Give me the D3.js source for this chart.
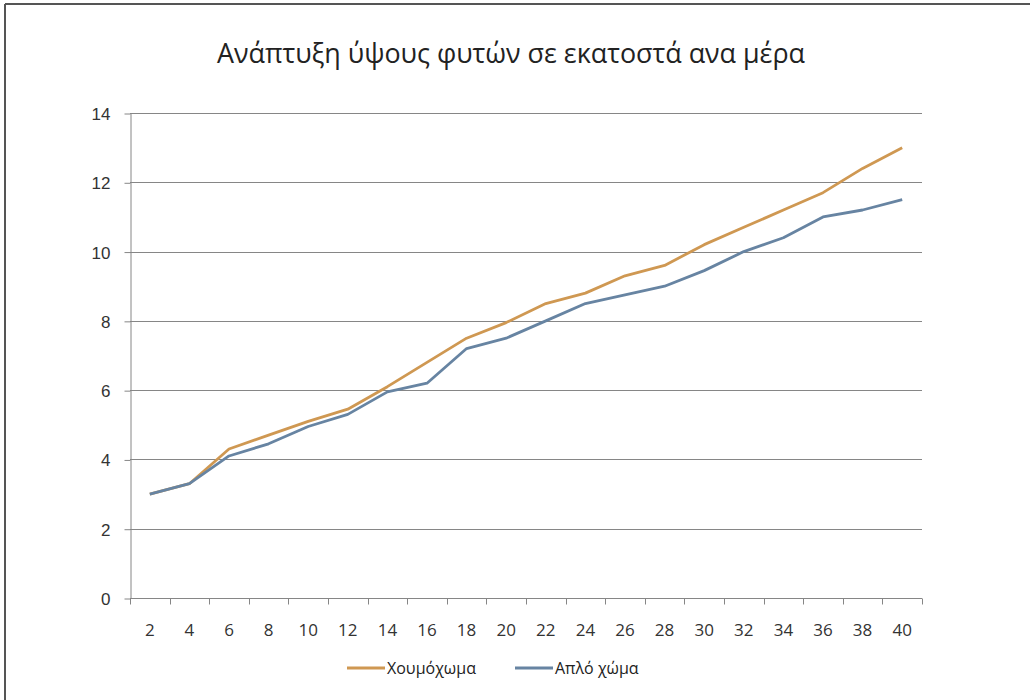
<!DOCTYPE html>
<html>
<head>
<meta charset="utf-8" />
<title>Ανάπτυξη ύψους φυτών</title>
<script src="https://d3js.org/d3.v7.min.js"></script>
<style>
    body { margin: 0; background: #fff; }
    svg { display: block; font-family: 'Open Sans', sans-serif; }
    .grid line { stroke: #868686; stroke-width: 1px; }
    .axis path, .axis line { stroke: #868686; }
    .axis text { fill: #333; font-size: 17px; }
</style>
</head>
<body>
<div id="chart"></div>
<script>
    // days (x categories)
    var days = [2, 4, 6, 8, 10, 12, 14, 16, 18, 20, 22, 24, 26, 28, 30, 32, 34, 36, 38, 40];
    // Χουμόχωμα
    var humus = [3.0, 3.3, 4.3, 4.7, 5.1, 5.45, 6.1, 6.8, 7.5, 7.95, 8.5, 8.8, 9.3, 9.6, 10.2, 10.7, 11.2, 11.7, 12.4, 13.0];
    // Απλό χώμα
    var plain = [3.0, 3.3, 4.1, 4.45, 4.95, 5.3, 5.95, 6.2, 7.2, 7.5, 8.0, 8.5, 8.75, 9.0, 9.45, 10.0, 10.4, 11.0, 11.2, 11.5];
    var yTicks = [0, 2, 4, 6, 8, 10, 12, 14];
    var seriesNames = ["Χουμόχωμα", "Απλό χώμα"];
    var colors = ["#cf9852", "#6784a2"];

    var width = 1030, height = 700;
    // plot box (note: "top" is reserved on window, so use own names)
    var plotL = 130, plotR = 922, plotT = 113, plotB = 598;

    var svg = d3.select("#chart").append("svg")
        .attr("width", width).attr("height", height);

    // frame (only top and left edges are visible in the picture)
    svg.append("line").attr("x1", 5).attr("y1", 4).attr("x2", width).attr("y2", 4)
        .attr("stroke", "#555").attr("stroke-width", 2);
    svg.append("line").attr("x1", 5).attr("y1", 4).attr("x2", 5).attr("y2", height)
        .attr("stroke", "#555").attr("stroke-width", 2);

    svg.append("text")
        .attr("x", 511).attr("y", 63)
        .attr("text-anchor", "middle")
        .attr("textLength", 588).attr("lengthAdjust", "spacingAndGlyphs")
        .style("font-size", "27px").style("fill", "#222")
        .text("Ανάπτυξη ύψους φυτών σε εκατοστά ανα μέρα");

    var x = d3.scaleBand().domain(days).range([plotL, plotR]);
    var y = d3.scaleLinear().domain([0, 14]).range([plotB, plotT]);

    // gridlines
    svg.append("g").attr("class", "grid")
        .selectAll("line").data(yTicks.filter(function (d) { return d > 0; }))
        .enter().append("line")
        .attr("x1", plotL).attr("x2", plotR)
        .attr("y1", function (d) { return Math.round(y(d)) + 0.5; })
        .attr("y2", function (d) { return Math.round(y(d)) + 0.5; });

    // y axis
    var yAxis = svg.append("g").attr("class", "axis")
        .attr("transform", "translate(" + (plotL + 0.5) + ",0.5)")
        .call(d3.axisLeft(y).tickValues(yTicks).tickSize(6).tickPadding(14).tickSizeOuter(0));
    yAxis.selectAll("text").attr("dy", "0.35em");

    // x axis: ticks sit between categories, as in the spreadsheet
    var xAxis = svg.append("g").attr("class", "axis")
        .attr("transform", "translate(0," + (Math.round(plotB) + 0.5) + ")");
    xAxis.append("line")
        .attr("x1", plotL).attr("x2", plotR).attr("y1", 0).attr("y2", 0);
    var bounds = days.map(function (d) { return x(d); }).concat([plotR]);
    xAxis.selectAll(".tk").data(bounds).enter().append("line")
        .attr("class", "tk")
        .attr("x1", function (d) { return Math.round(d) + 0.5; })
        .attr("x2", function (d) { return Math.round(d) + 0.5; })
        .attr("y1", 0).attr("y2", 6);
    xAxis.selectAll("text").data(days).enter().append("text")
        .attr("x", function (d) { return x(d) + x.bandwidth() / 2; })
        .attr("y", 37)
        .attr("text-anchor", "middle")
        .text(function (d) { return d; });

    // lines
    var line = d3.line()
        .x(function (d, i) { return x(days[i]) + x.bandwidth() / 2; })
        .y(function (d) { return y(d); });

    [humus, plain].forEach(function (s, k) {
        svg.append("path")
            .datum(s)
            .attr("d", line)
            .attr("fill", "none")
            .attr("stroke", colors[k])
            .attr("stroke-width", 2.8)
            .attr("stroke-linejoin", "round");
    });

    // legend
    var legendX = [347, 515];
    var legend = svg.append("g");
    seriesNames.forEach(function (name, k) {
        legend.append("line")
            .attr("x1", legendX[k]).attr("x2", legendX[k] + 38)
            .attr("y1", 668).attr("y2", 668)
            .attr("stroke", colors[k]).attr("stroke-width", 2.8);
        legend.append("text")
            .attr("x", legendX[k] + 40).attr("y", 674)
            .style("font-size", "16px").style("fill", "#222")
            .text(name);
    });
</script>
</body>
</html>
